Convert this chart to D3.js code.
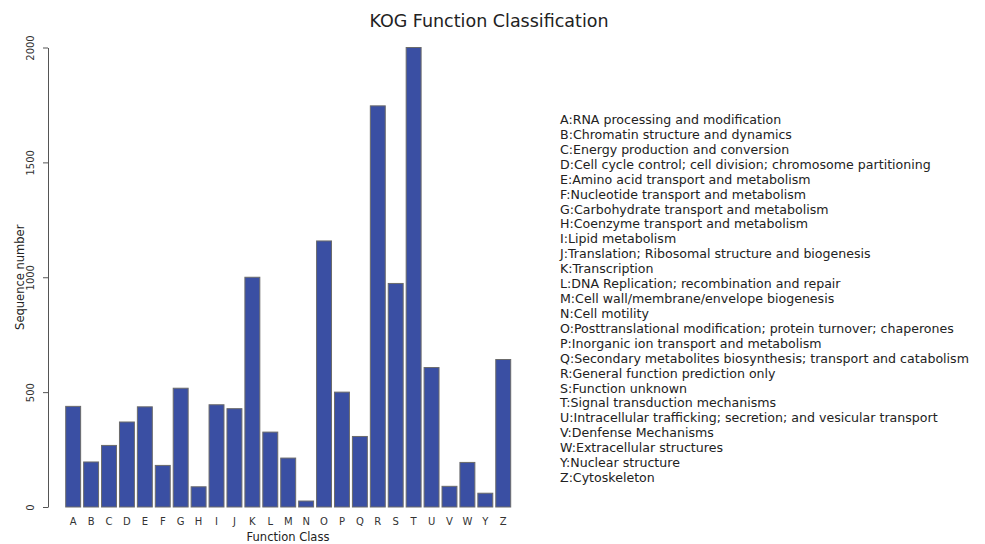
<!DOCTYPE html>
<html>
<head>
<meta charset="utf-8">
<script src="https://cdn.jsdelivr.net/npm/d3@7"></script>
<style>
  html, body { margin: 0; padding: 0; background: #fff; }
  svg { display: block; font-family: "DejaVu Sans", sans-serif; }
</style>
</head>
<body>
<svg id="chart" width="985" height="544"></svg>
<script>
// KOG function classes and the number of sequences assigned to each
const classes = ["A","B","C","D","E","F","G","H","I","J","K","L","M","N","O","P","Q","R","S","T","U","V","W","Y","Z"];
const counts  = [438, 196, 268, 370, 436, 181, 517, 88, 445, 428, 1000, 326, 213, 26, 1158, 500, 307, 1746, 973, 2000, 607, 90, 194, 60, 642];
const descriptions = [
  "RNA processing and modification",
  "Chromatin structure and dynamics",
  "Energy production and conversion",
  "Cell cycle control; cell division; chromosome partitioning",
  "Amino acid transport and metabolism",
  "Nucleotide transport and metabolism",
  "Carbohydrate transport and metabolism",
  "Coenzyme transport and metabolism",
  "Lipid metabolism",
  "Translation; Ribosomal structure and biogenesis",
  "Transcription",
  "DNA Replication; recombination and repair",
  "Cell wall/membrane/envelope biogenesis",
  "Cell motility",
  "Posttranslational modification; protein turnover; chaperones",
  "Inorganic ion transport and metabolism",
  "Secondary metabolites biosynthesis; transport and catabolism",
  "General function prediction only",
  "Function unknown",
  "Signal transduction mechanisms",
  "Intracellular trafficking; secretion; and vesicular transport",
  "Denfense Mechanisms",
  "Extracellular structures",
  "Nuclear structure",
  "Cytoskeleton"
];
const yTicks = [0, 500, 1000, 1500, 2000];

const svg = d3.select("#chart");
const barColor = "#3a4fa3";

// plotting region
const plot = { left: 65.7, right: 510.7, top: 47.5, bottom: 507 };

// bar width 1, gap 0.2 between bars
const x = d3.scaleBand()
  .domain(classes)
  .range([plot.left, plot.right])
  .paddingInner(0.2 / 1.2)
  .paddingOuter(0);

const y = d3.scaleLinear()
  .domain([0, 2000])
  .range([plot.bottom, plot.top]);

// bars
svg.append("g")
  .selectAll("rect")
  .data(classes)
  .join("rect")
  .attr("x", d => x(d))
  .attr("y", (d, i) => y(counts[i]))
  .attr("width", x.bandwidth())
  .attr("height", (d, i) => y(0) - y(counts[i]))
  .attr("fill", barColor)
  .attr("stroke", "#6b6b6b")
  .attr("stroke-width", 1);

// left axis with rotated tick labels
const yAxis = svg.append("g")
  .attr("transform", "translate(48,0)")
  .call(d3.axisLeft(y).tickValues(yTicks).tickSize(5).tickSizeOuter(0).tickFormat(d3.format("d")));
yAxis.select(".domain").attr("stroke", "#555");
yAxis.selectAll(".tick line").attr("stroke", "#555");
yAxis.selectAll(".tick text")
  .attr("font-family", "DejaVu Sans, sans-serif")
  .attr("font-size", 10)
  .attr("fill", "#333")
  .attr("transform", "rotate(-90)")
  .attr("x", 0)
  .attr("y", -14)
  .attr("dy", "0")
  .attr("text-anchor", "middle");

// category letters under the bars
const xAxis = svg.append("g")
  .attr("transform", `translate(0,${plot.bottom})`)
  .call(d3.axisBottom(x).tickSize(0));
xAxis.select(".domain").remove();
xAxis.selectAll(".tick text")
  .attr("font-family", "DejaVu Sans, sans-serif")
  .attr("font-size", 10)
  .attr("fill", "#333")
  .attr("y", 11)
  .attr("dy", "0.71em");

// titles
svg.append("text")
  .attr("x", 489).attr("y", 27)
  .attr("text-anchor", "middle")
  .attr("font-size", 17.5)
  .attr("fill", "#222")
  .text("KOG Function Classification");

svg.append("text")
  .attr("x", 288).attr("y", 541)
  .attr("text-anchor", "middle")
  .attr("font-size", 11.5)
  .attr("fill", "#222")
  .text("Function Class");

svg.append("text")
  .attr("transform", `translate(24,${(plot.top + plot.bottom) / 2}) rotate(-90)`)
  .attr("text-anchor", "middle")
  .attr("font-size", 11.5)
  .attr("fill", "#222")
  .text("Sequence number");

// class descriptions
svg.append("g")
  .selectAll("text")
  .data(classes)
  .join("text")
  .attr("x", 560)
  .attr("y", (d, i) => 124 + i * 14.92)
  .attr("font-size", 12.6)
  .attr("fill", "#222")
  .text((d, i) => `${d}:${descriptions[i]}`);
</script>
</body>
</html>
